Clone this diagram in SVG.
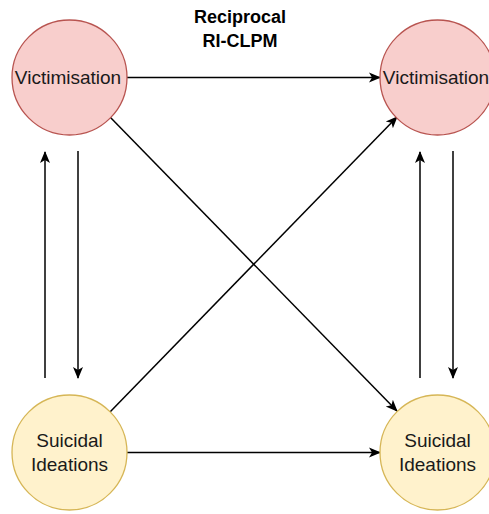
<svg xmlns="http://www.w3.org/2000/svg" width="489" height="514" viewBox="0 0 489 514">
<style>
.v{fill:#f8cecc;stroke:#b85450;stroke-width:1.3}
.s{fill:#fff2cc;stroke:#d6b656;stroke-width:1.3}
.t{font-family:"Liberation Sans",Arial,sans-serif;font-size:19px;fill:#1a1a1a;text-anchor:middle}
.h{font-family:"Liberation Sans",Arial,sans-serif;font-size:18px;font-weight:bold;fill:#000;text-anchor:middle}
.c line{stroke:#000;stroke-width:1.5;fill:none;marker-end:url(#b)}
</style>
<defs>
<marker id="b" viewBox="0 0 12 12" refX="11" refY="6" markerWidth="12" markerHeight="12" markerUnits="userSpaceOnUse" orient="auto">
<path d="M0,1 L12,6 L0,11 L3,6 Z" fill="#000"/>
</marker>
</defs>
<g id="title"><text class="h" x="240" y="23">Reciprocal</text><text class="h" x="240" y="47">RI-CLPM</text></g>
<g class="c" id="connectors">
<line x1="127" y1="77.5" x2="380" y2="77.5"/>
<line x1="127" y1="452.5" x2="380" y2="452.5"/>
<line x1="45" y1="378" x2="45" y2="152"/>
<line x1="78" y1="151" x2="78" y2="378"/>
<line x1="420" y1="378" x2="420" y2="152"/>
<line x1="453" y1="151" x2="453" y2="378"/>
<line x1="110" y1="117" x2="397" y2="411"/>
<line x1="110" y1="412" x2="397" y2="117"/>
</g>
<g id="v1"><circle class="v" cx="69.5" cy="77.5" r="57.5"/><text class="t" x="68" y="83.5">Victimisation</text></g>
<g id="v2"><circle class="v" cx="437.5" cy="77.5" r="57.5"/><text class="t" x="436" y="83.5">Victimisation</text></g>
<g id="s1"><circle class="s" cx="69.5" cy="452.5" r="57.5"/><text class="t" x="69.5" y="447">Suicidal</text><text class="t" x="69.5" y="471">Ideations</text></g>
<g id="s2"><circle class="s" cx="437.5" cy="452.5" r="57.5"/><text class="t" x="437.5" y="447">Suicidal</text><text class="t" x="437.5" y="471">Ideations</text></g>
</svg>
